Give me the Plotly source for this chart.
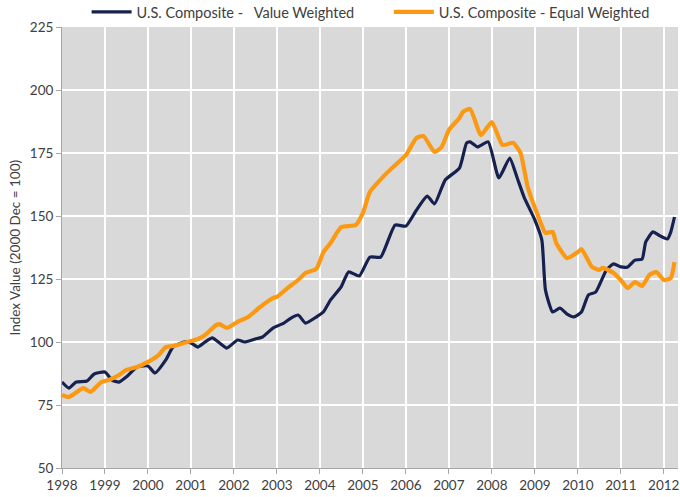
import plotly.graph_objects as go

vw_dates = ["1998-01","1998-03","1998-05","1998-08","1998-10","1999-01","1999-03","1999-05","1999-07","1999-10",
            "2000-01","2000-03","2000-06","2000-08","2000-11","2001-01","2001-03","2001-05","2001-07","2001-09",
            "2001-11","2002-02","2002-04","2002-07","2002-09","2002-12","2003-03","2003-05","2003-07","2003-09",
            "2003-12","2004-02","2004-04","2004-07","2004-09","2004-12","2005-03","2005-06","2005-10","2006-01",
            "2006-04","2006-07","2006-09","2006-12","2007-04","2007-06","2007-07","2007-09","2007-12","2008-03",
            "2008-06","2008-08","2008-10","2009-01","2009-03","2009-04","2009-06","2009-08","2009-10","2009-12",
            "2010-02","2010-04","2010-06","2010-09","2010-11","2011-01","2011-03","2011-05","2011-07","2011-08",
            "2011-10","2011-12","2012-02","2012-03","2012-04"]
vw_values = [84.1,81.7,84.1,84.5,87.3,88.1,84.9,84.1,86.1,90.1,
             90.5,87.7,92.9,98.0,100.0,99.6,98.0,100.0,101.6,99.6,
             97.6,100.8,100.0,101.2,102.0,105.6,107.5,109.5,110.7,107.5,
             109.9,112.0,116.7,122.0,127.8,126.2,133.7,133.7,146.4,146.0,
             152.4,157.9,154.8,164.3,169.0,179.0,179.4,177.4,179.4,165.1,
             173.0,165.5,157.5,148.4,140.5,120.6,111.9,113.5,111.1,110.0,
             111.9,118.7,119.8,128.6,131.0,129.8,129.8,132.5,132.9,139.7,
             143.7,142.1,140.9,143.7,149.6]

ew_dates = ["1998-01","1998-03","1998-07","1998-09","1998-12","1999-02","1999-05","1999-07","1999-10","2000-01",
            "2000-04","2000-06","2000-08","2000-11","2001-01","2001-03","2001-05","2001-08","2001-09","2001-11",
            "2002-02","2002-05","2002-08","2002-12","2003-01","2003-04","2003-07","2003-09","2003-12","2004-02",
            "2004-04","2004-07","2004-11","2005-01","2005-03","2005-08","2006-01","2006-04","2006-06","2006-09",
            "2006-11","2007-01","2007-04","2007-05","2007-07","2007-10","2008-01","2008-04","2008-07","2008-09",
            "2008-11","2009-02","2009-04","2009-06","2009-07","2009-10","2010-01","2010-02","2010-05","2010-07",
            "2010-08","2010-11","2011-01","2011-03","2011-05","2011-07","2011-09","2011-11","2012-01","2012-03",
            "2012-04"]
ew_values = [79.0,78.2,81.7,80.2,84.1,84.9,86.9,88.9,90.1,92.1,
             94.8,98.0,98.4,99.6,100.4,101.2,102.8,106.7,107.1,105.6,
             108.0,109.9,113.5,117.5,117.9,121.4,124.6,127.4,129.0,135.7,
             139.3,145.6,146.4,151.2,159.5,167.5,174.2,181.0,181.7,175.4,
             177.4,184.1,188.9,191.3,192.5,182.1,187.3,178.2,179.0,175.0,
             161.5,149.6,143.3,143.7,139.3,133.3,135.7,136.9,129.8,128.6,
             129.4,127.4,124.6,121.4,123.8,122.2,126.6,127.8,124.6,125.4,
             131.7]

year_ticks = [f"{y}-01-01" for y in range(1998, 2013)]
year_labels = [str(y) for y in range(1998, 2013)]
y_ticks = [50, 75, 100, 125, 150, 175, 200, 225]

font = "Lato, 'Open Sans', sans-serif"
txt = "#404040"

fig = go.Figure()
fig.add_trace(go.Scatter(x=vw_dates, y=vw_values, mode="lines",
                         name="U.S. Composite -\u00a0\u00a0 Value Weighted" + "\u00a0" * 8,
                         line=dict(color="#16214f", width=3.2, shape="spline", smoothing=0.5)))
fig.add_trace(go.Scatter(x=ew_dates, y=ew_values, mode="lines",
                         name="U.S. Composite - Equal Weighted",
                         line=dict(color="#fb9a12", width=4.2, shape="spline", smoothing=0.5)))

fig.update_layout(
    width=680, height=497,
    margin=dict(l=62, r=2, t=27, b=29, autoexpand=False),
    paper_bgcolor="white",
    plot_bgcolor="#d9d9d9",
    font=dict(family=font, size=13.5, color=txt),
    legend=dict(orientation="h", x=0.545, xanchor="center", xref="container",
                y=0.976, yanchor="middle", yref="container",
                font=dict(size=14.5, color=txt), bgcolor="rgba(0,0,0,0)",
                itemwidth=40, tracegroupgap=0),
    showlegend=True,
    annotations=[dict(text="Index Value (2000 Dec = 100)", xref="paper", yref="paper",
                      x=0, y=0.5, xshift=-48, textangle=-90, showarrow=False,
                      font=dict(size=13.5, color=txt), xanchor="center", yanchor="middle")],
)
fig.update_xaxes(
    type="date",
    range=["1998-01-01", "2012-05-01"],
    tickvals=year_ticks, ticktext=year_labels,
    showgrid=True, gridcolor="white", gridwidth=1.5,
    showline=True, linecolor="#a6a6a6", linewidth=1,
    ticks="outside", ticklen=5, tickcolor="#a6a6a6",
    tickfont=dict(size=13.5, color=txt),
    zeroline=False, automargin=False,
)
fig.update_yaxes(
    range=[50, 225],
    tickvals=y_ticks,
    showgrid=True, gridcolor="white", gridwidth=1.5,
    showline=True, linecolor="#a6a6a6", linewidth=1,
    ticks="outside", ticklen=5, tickcolor="#a6a6a6",
    tickfont=dict(size=13.5, color=txt),
    zeroline=False, automargin=False,
)

fig.write_html("out.html", config={"displayModeBar": False})

with open("out.html", "r", encoding="utf-8") as f:
    html = f.read()
html = html.replace("<body>", '<body style="margin:0;padding:0;overflow:hidden">', 1)
with open("out.html", "w", encoding="utf-8") as f:
    f.write(html)
